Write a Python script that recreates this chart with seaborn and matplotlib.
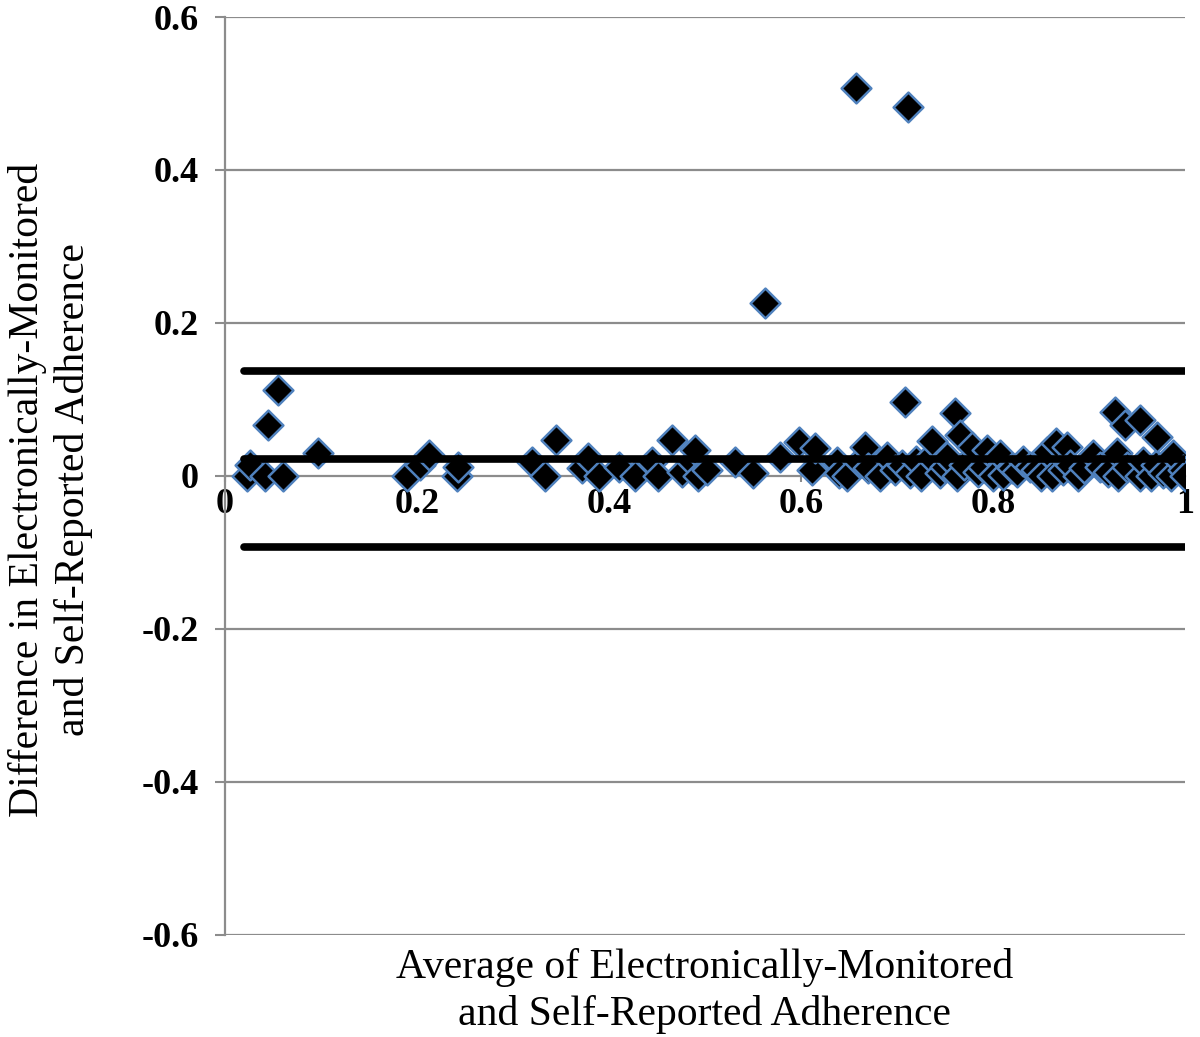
import matplotlib
matplotlib.use("Agg")
import matplotlib.pyplot as plt
import numpy as np
import seaborn as sns
import pandas as pd

# averages (x) and differences (y)
x_avg = [0.023, 0.026, 0.042, 0.045, 0.055, 0.060, 0.097,
         0.190, 0.203, 0.213, 0.242, 0.243,
         0.320, 0.333, 0.345, 0.372, 0.378, 0.390, 0.410, 0.427, 0.445, 0.451,
         0.466, 0.476, 0.486, 0.490, 0.493, 0.502, 0.531, 0.550, 0.563, 0.578,
         0.598, 0.611, 0.615, 0.637, 0.640, 0.648, 0.657, 0.660, 0.667, 0.670,
         0.682, 0.690, 0.698, 0.705, 0.708, 0.711, 0.714, 0.720, 0.725, 0.734,
         0.736, 0.745, 0.750, 0.752, 0.760, 0.762, 0.766, 0.770, 0.778, 0.784,
         0.790, 0.794, 0.800, 0.807, 0.810, 0.820, 0.825, 0.831, 0.839, 0.845,
         0.850, 0.856, 0.861, 0.866, 0.873, 0.877, 0.880, 0.889, 0.895, 0.904,
         0.911, 0.920, 0.927, 0.929, 0.930, 0.9375, 0.940, 0.953, 0.953, 0.956,
         0.965, 0.970, 0.971, 0.977, 0.985, 0.988, 0.998, 1.000]
y_diff = [0.000, 0.014, 0.000, 0.067, 0.112, 0.000, 0.030,
          0.000, 0.014, 0.027, 0.000, 0.012,
          0.018, 0.000, 0.047, 0.010, 0.023, 0.000, 0.012, 0.000, 0.018, 0.000,
          0.047, 0.005, 0.018, 0.034, 0.000, 0.008, 0.018, 0.004, 0.226, 0.025,
          0.044, 0.008, 0.037, 0.018, 0.004, 0.000, 0.507, 0.018, 0.038, 0.010,
          0.000, 0.025, 0.008, 0.015, 0.097, 0.482, 0.004, 0.020, 0.000, 0.025,
          0.046, 0.004, 0.012, 0.025, 0.082, 0.000, 0.054, 0.015, 0.038, 0.005,
          0.012, 0.034, 0.000, 0.027, 0.001, 0.010, 0.005, 0.020, 0.012, 0.008,
          0.000, 0.031, 0.000, 0.043, 0.008, 0.038, 0.015, 0.000, 0.010, 0.027,
          0.012, 0.005, 0.084, 0.030, 0.000, 0.067, 0.012, 0.073, 0.000, 0.018,
          0.000, 0.015, 0.051, 0.004, 0.000, 0.027, 0.008, 0.000]

# mean difference and limits of agreement
agreement_lines = [0.137, 0.022, -0.093]
line_span = [0.02, 1.0]

x_ticks = [0, 0.2, 0.4, 0.6, 0.8, 1]
y_ticks = [-0.6, -0.4, -0.2, 0, 0.2, 0.4, 0.6]

sns.set_theme(style="white")
plt.rcParams['font.family'] = ['Liberation Serif', 'DejaVu Serif']
plt.rcParams['text.color'] = 'black'
plt.rcParams['axes.labelcolor'] = 'black'
plt.rcParams['xtick.labelcolor'] = 'black'
plt.rcParams['ytick.labelcolor'] = 'black'

fig = plt.figure(figsize=(12, 10.37), dpi=100)
ax = fig.add_axes([0.1875, 0.0984, 0.8, 0.8852])

grid_col = "#8c8c8c"
for v in y_ticks:
    if v != 0:
        ax.axhline(v, color=grid_col, lw=1.6, zorder=0)

df = pd.DataFrame({"avg": x_avg, "diff": y_diff})
sns.scatterplot(data=df, x="avg", y="diff", marker="D", s=230, color="black",
                edgecolor="#4f81bd", linewidth=1.8, ax=ax, zorder=3)

ax.hlines(agreement_lines, line_span[0], line_span[1], color="black",
          lw=5.5, capstyle="round", zorder=4)

ax.set_xlim(0, 1)
ax.set_ylim(-0.6, 0.6)
ax.set_xticks(x_ticks)
ax.set_yticks(y_ticks)
ax.set_xticklabels([f"{v:g}" for v in x_ticks])
ax.set_yticklabels([f"{v:g}" for v in y_ticks])

for s in ["top", "right"]:
    ax.spines[s].set_visible(False)
ax.spines["bottom"].set_position(("data", 0))
ax.spines["bottom"].set_color(grid_col)
ax.spines["bottom"].set_linewidth(1.6)
ax.spines["bottom"].set_zorder(1)
ax.spines["left"].set_color(grid_col)
ax.spines["left"].set_linewidth(1.6)

ax.tick_params(axis="y", direction="out", length=7, width=1.5, color=grid_col,
               pad=12, labelsize=26, left=True)
ax.tick_params(axis="x", direction="out", length=4, width=1.5, color=grid_col,
               pad=5, labelsize=26, bottom=True)
for lab in ax.get_xticklabels() + ax.get_yticklabels():
    lab.set_fontweight("bold")

ax.set_xlabel("Average of Electronically-Monitored\nand Self-Reported Adherence",
              fontsize=30, linespacing=1.25)
ax.set_ylabel("Difference in Electronically-Monitored\nand Self-Reported Adherence",
              fontsize=30, linespacing=1.25)
ax.xaxis.set_label_coords(0.5, -0.061)
ax.xaxis.label.set_va("center")
ax.yaxis.set_label_coords(-0.182, 0.485)
ax.yaxis.label.set_va("center")

plt.savefig("out.png", dpi=100)
